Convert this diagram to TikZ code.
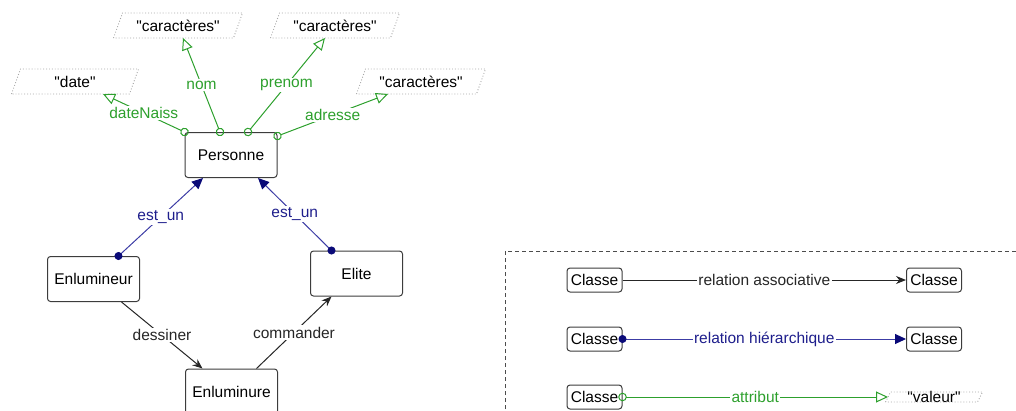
\documentclass[tikz,border=0pt]{standalone}
\usepackage{fontspec}
\setmainfont{Liberation Sans}
\usetikzlibrary{arrows.meta,calc}
\definecolor{grn}{RGB}{45,160,45}
\definecolor{bltxt}{RGB}{30,30,140}
\definecolor{blln}{RGB}{60,60,165}
\definecolor{blhead}{RGB}{10,10,120}
\definecolor{bord}{RGB}{60,60,60}
\newcommand\valshape[4]{%
  \draw[gray!70, dotted, line width=0.9pt]
    ($(#1)+(-#2-#4,#3)$) -- ($(#1)+(-#2+#4,-#3)$) -- ($(#1)+(#2+#4,-#3)$) -- ($(#1)+(#2-#4,#3)$) -- cycle;}
\newcommand\qq[1]{\textquotedbl#1\textquotedbl}
\begin{document}
\begin{tikzpicture}[x=1pt,y=-1pt, font=\fontsize{15.5}{18}\selectfont,
 cls/.style={draw=bord, line width=1pt, rounded corners=3pt, minimum width=92pt, minimum height=45pt, inner sep=0pt},
 lcls/.style={draw=bord, line width=1pt, rounded corners=3pt, minimum width=55pt, minimum height=24pt, inner sep=1pt},
 val/.style={inner sep=0pt},
 lab/.style={fill=white, inner sep=1.5pt},
 attr/.style={grn, line width=1pt, {Circle[open,length=8.5pt,width=8.5pt]}-{Triangle[open,length=12pt,width=11pt]}, shorten <=-4.25pt},
 hier/.style={blln, line width=1pt, {Circle[color=blhead,length=8pt,width=8pt]}-{Triangle[color=blhead,length=11pt,width=10pt]}, shorten <=-4pt},
 assoc/.style={black!85, line width=1pt, -{Stealth[length=10pt,width=8pt]}},
]
\useasboundingbox (0,0) rectangle (1016,410);
\clip (0,0) rectangle (1016,410);

% class nodes
\node[cls] (P) at (231,155) {Personne};
\node[cls] (E) at (93.5,279) {Enlumineur};
\node[cls] (L) at (356.5,273.5) {Elite};
\node[cls] (U) at (231.5,391.5) {Enluminure};

% value nodes
\node[val] (vd) at (75,81.5) {\qq{date}};
\node[val] (v1) at (178,25.5) {\qq{caractères}};
\node[val] (v2) at (335,25.5) {\qq{caractères}};
\node[val] (v3) at (421,81.5) {\qq{caractères}};
\valshape{vd}{59}{12.5}{4.5}
\valshape{v1}{60}{12.5}{4.5}
\valshape{v2}{60}{12.5}{4.5}
\valshape{v3}{60}{12.5}{4.5}

% attributes
\draw[attr] (P.north west) -- node[lab, text=grn]{dateNaiss} ($(vd)+(28,12.5)$);
\draw[attr] ($(P.north)+(-11,0)$) -- node[lab, text=grn]{nom} ($(v1)+(5,12.5)$);
\draw[attr] ($(P.north)+(17,0)$) -- node[lab, text=grn]{prenom} ($(v2)+(-10,12.5)$);
\draw[attr] ($(P.north east)+(0,4)$) -- node[lab, text=grn]{adresse} ($(v3)+(-33,12.5)$);

% hierarchy
\draw[hier] ($(E.north)+(25,0)$) -- node[lab, text=bltxt]{est\_un} ($(P.south)+(-28,0)$);
\draw[hier] ($(L.north)+(-25,0)$) -- node[lab, text=bltxt]{est\_un} ($(P.south)+(27,0)$);

% associations
\draw[assoc] ($(E.south)+(28,0)$) -- node[lab]{dessiner} ($(U.north)+(-29,0)$);
\draw[assoc] ($(U.north)+(25,0)$) -- node[lab]{commander} ($(L.south)+(-25,0)$);

% legend
\draw[gray!60!black, line width=0.8pt, dash pattern=on 4pt off 3pt] (505,430) -- (505,251) -- (1030,251);
\node[lcls] (a1) at (594.5,280) {Classe};
\node[lcls] (a2) at (934,280) {Classe};
\draw[assoc] (a1) -- node[lab]{relation associative} (a2);
\node[lcls] (b1) at (594.5,339) {Classe};
\node[lcls] (b2) at (934,339) {Classe};
\draw[hier] (b1) -- node[lab, text=bltxt]{relation hiérarchique} (b2);
\node[lcls] (c1) at (594.5,397) {Classe};
\node[val] (cv) at (934,397) {\qq{valeur}};
\valshape{cv}{46}{5}{2.5}
\draw[attr] (c1) -- node[lab, text=grn]{attribut} ($(cv)+(-46,0)$);
\end{tikzpicture}
\end{document}
